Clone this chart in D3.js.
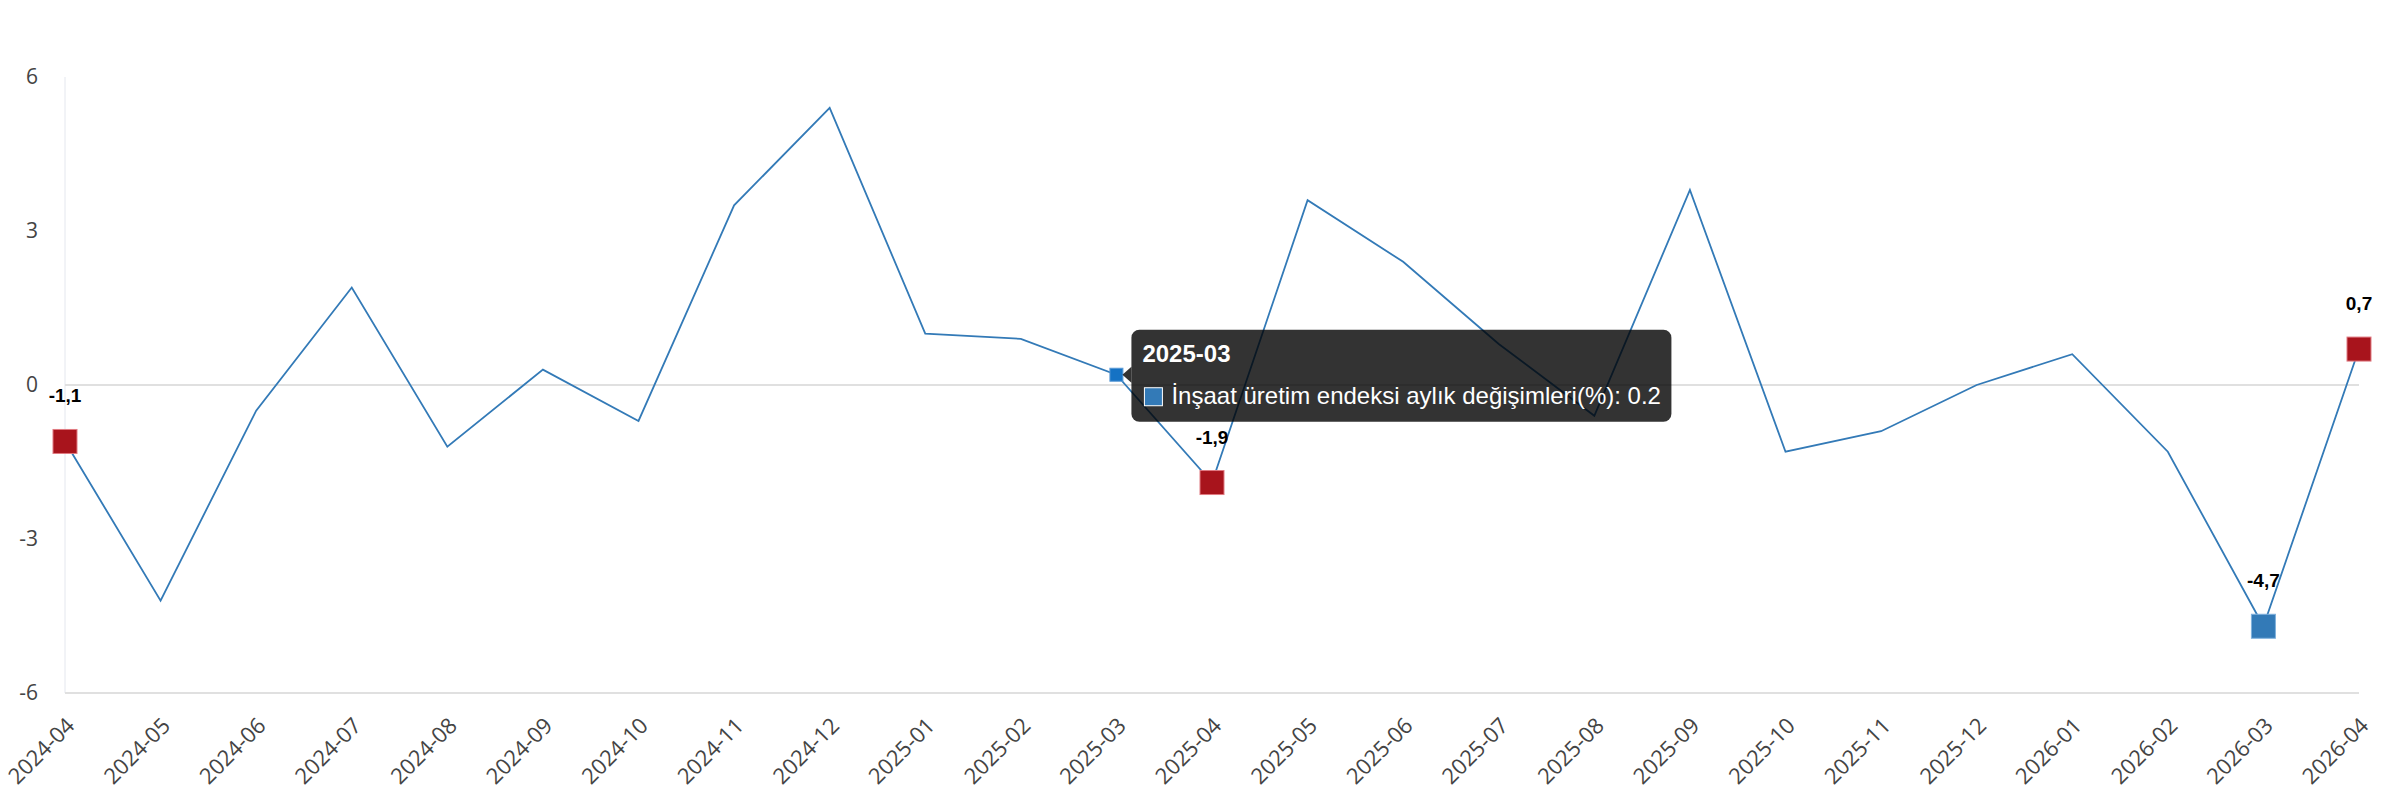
<!DOCTYPE html>
<html>
<head>
<meta charset="utf-8">
<script src="https://cdn.jsdelivr.net/npm/d3@7"></script>
<style>
    body { margin: 0; background: #fff; }
</style>
</head>
<body>
<svg id="chart" width="2384" height="800"></svg>
<script>
const months = ["2024-04", "2024-05", "2024-06", "2024-07", "2024-08", "2024-09", "2024-10", "2024-11", "2024-12",
    "2025-01", "2025-02", "2025-03", "2025-04", "2025-05", "2025-06", "2025-07", "2025-08", "2025-09",
    "2025-10", "2025-11", "2025-12", "2026-01", "2026-02", "2026-03", "2026-04"];
const values = [-1.1, -4.2, -0.5, 1.9, -1.2, 0.3, -0.7, 3.5, 5.4, 1.0, 0.9, 0.2, -1.9, 3.6, 2.4, 0.8, -0.6, 3.8,
    -1.3, -0.9, 0.0, 0.6, -1.3, -4.7, 0.7];
const yTicks = [-6, -3, 0, 3, 6];
const seriesName = "İnşaat üretim endeksi aylık değişimleri(%)";

// highlighted points (same month each year in red, lowest in blue)
const redMonths = ["2024-04", "2025-04", "2026-04"];
const blueMonths = ["2026-03"];
const hoverMonth = "2025-03";

const svg = d3.select("#chart");

const x = d3.scalePoint()
    .domain(months)
    .range([65, 2359]);
const y = d3.scaleLinear()
    .domain([-6, 6])
    .range([693, 77]);

const data = months.map((m, i) => ({ month: m, value: values[i] }));

// axis lines
svg.append("line")
    .attr("x1", x(months[0])).attr("x2", x(months[0]))
    .attr("y1", y(6)).attr("y2", y(-6))
    .attr("stroke", "#e4e7ee")
    .attr("stroke-width", 1);
svg.append("line")
    .attr("x1", x(months[0])).attr("x2", x(months[months.length - 1]))
    .attr("y1", y(0)).attr("y2", y(0))
    .attr("stroke", "#e0e0e0")
    .attr("stroke-width", 2);
svg.append("line")
    .attr("x1", x(months[0])).attr("x2", x(months[months.length - 1]))
    .attr("y1", y(-6)).attr("y2", y(-6))
    .attr("stroke", "#e0e0e0")
    .attr("stroke-width", 2);

// y tick labels
svg.selectAll("text.y-label")
    .data(yTicks)
    .enter()
    .append("text")
    .attr("class", "y-label")
    .attr("x", 38)
    .attr("y", d => y(d))
    .attr("dy", "0.35em")
    .attr("text-anchor", "end")
    .attr("font-family", "'Open Sans', sans-serif")
    .attr("font-size", "21px")
    .attr("fill", "#444")
    .text(d => d);

// x tick labels, rotated
svg.selectAll("text.x-label")
    .data(months)
    .enter()
    .append("text")
    .attr("class", "x-label")
    .attr("transform", d => `translate(${x(d) + 11}, 727) rotate(-45)`)
    .attr("text-anchor", "end")
    .attr("font-family", "'Open Sans', sans-serif")
    .attr("font-size", "22px")
    .attr("fill", "#444")
    .text(d => d);

// the line
const line = d3.line()
    .x(d => x(d.month))
    .y(d => y(d.value));
svg.append("path")
    .datum(data)
    .attr("d", line)
    .attr("fill", "none")
    .attr("stroke", "#337ab7")
    .attr("stroke-width", 1.8)
    .attr("stroke-linejoin", "miter");

// big square markers
const markSize = 24;
const marked = data.filter(d => redMonths.includes(d.month) || blueMonths.includes(d.month));
svg.selectAll("rect.marker")
    .data(marked)
    .enter()
    .append("rect")
    .attr("class", "marker")
    .attr("x", d => x(d.month) - markSize / 2)
    .attr("y", d => y(d.value) - markSize / 2)
    .attr("width", markSize)
    .attr("height", markSize)
    .attr("fill", d => redMonths.includes(d.month) ? "#a8141c" : "#337ab7")
    .attr("stroke", d => redMonths.includes(d.month) ? "#e07a82" : "#7fb0dc")
    .attr("stroke-width", 1);

// value labels above the markers, turkish decimal comma
svg.selectAll("text.value-label")
    .data(marked)
    .enter()
    .append("text")
    .attr("class", "value-label")
    .attr("x", d => x(d.month))
    .attr("y", d => y(d.value) - 39)
    .attr("text-anchor", "middle")
    .attr("font-family", "'Liberation Sans', Arial, sans-serif")
    .attr("font-weight", "bold")
    .attr("font-size", "19px")
    .attr("fill", "#000")
    .text(d => d.value.toFixed(1).replace(".", ","));

// hovered point + tooltip
const hover = data.find(d => d.month === hoverMonth);
const hx = x(hover.month);
const hy = y(hover.value);
svg.append("rect")
    .attr("x", hx - 6.5)
    .attr("y", hy - 6.5)
    .attr("width", 13)
    .attr("height", 13)
    .attr("fill", "#1572c4")
    .attr("stroke", "#5a9ad6")
    .attr("stroke-width", 1);

const tip = svg.append("g")
    .attr("transform", `translate(${hx + 15}, ${hy - 45})`);
const tipW = 540, tipH = 92;
tip.append("rect")
    .attr("width", tipW)
    .attr("height", tipH)
    .attr("rx", 8)
    .attr("fill", "rgba(0,0,0,0.8)");
tip.append("path")
    .attr("d", "M0,37 L-9,45 L0,53 Z")
    .attr("fill", "rgba(0,0,0,0.8)");
tip.append("text")
    .attr("x", 11)
    .attr("y", 32)
    .attr("font-family", "'Liberation Sans', Arial, sans-serif")
    .attr("font-weight", "bold")
    .attr("font-size", "24px")
    .attr("fill", "#fff")
    .text(hover.month);
tip.append("rect")
    .attr("x", 13)
    .attr("y", 58)
    .attr("width", 18)
    .attr("height", 18)
    .attr("fill", "#337ab7")
    .attr("stroke", "#fff")
    .attr("stroke-width", 1);
tip.append("text")
    .attr("x", 40)
    .attr("y", 74)
    .attr("font-family", "'Liberation Sans', Arial, sans-serif")
    .attr("font-size", "24px")
    .attr("fill", "#fff")
    .text(`${seriesName}: ${hover.value}`);
</script>
</body>
</html>
